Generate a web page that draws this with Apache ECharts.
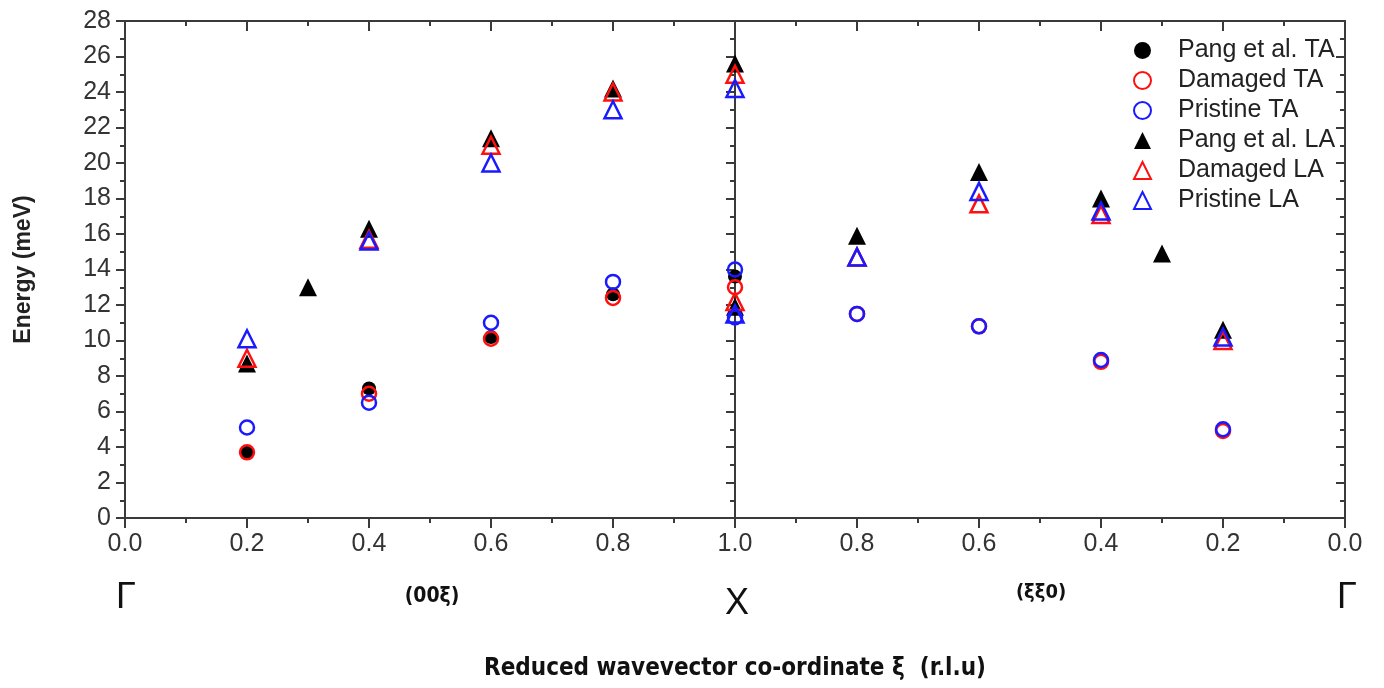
<!DOCTYPE html>
<html><head><meta charset="utf-8">
<script src="https://cdn.jsdelivr.net/npm/echarts@6/dist/echarts.min.js"></script>
<style>html,body{margin:0;padding:0;background:#fff}#c{width:1384px;height:688px}</style>
</head><body><div id="c"></div>
<script>
// ---- data (ξ in r.l.u., energy in meV) ----
// (00ξ) branch: Γ -> X ; (ξξ0) branch: X -> Γ
const xiLeft = [0.2, 0.4, 0.6, 0.8, 1.0];
const xiRight = [1.0, 0.8, 0.6, 0.4, 0.2];
const xiPangLALeft = [0.2, 0.3, 0.4, 0.6, 0.8, 1.0];
const xiPangLARight = [1.0, 0.8, 0.6, 0.4, 0.3, 0.2];

const pangTALeft = [3.7, 7.3, 10.2, 12.6, 13.6];
const damagedTALeft = [3.7, 7.0, 10.1, 12.4, 13.0];
const damagedTARight = [null, 11.5, 10.8, 8.8, 4.9];
const pristineTALeft = [5.1, 6.5, 11.0, 13.3, 14.0];
const pristineTARight = [11.3, 11.5, 10.8, 8.9, 5.0];
const pangLALeft = [8.7, 13.0, 16.3, 21.4, 24.2, 25.6];
const pangLARight = [11.9, 15.9, 19.5, 18.0, 14.9, 10.6];
const damagedLALeft = [9.0, 15.7, 21.0, 24.0, 25.0];
const damagedLARight = [12.2, 14.7, 17.7, 17.1, 10.0];
const pristineLALeft = [10.1, 15.6, 20.0, 23.0, 24.2];
const pristineLARight = [11.5, 14.7, 18.4, 17.3, 10.2];

const xTickLabels = ['0.0','0.2','0.4','0.6','0.8','1.0','0.8','0.6','0.4','0.2','0.0'];

// path coordinate: left branch ξ, right branch 2-ξ
function pts(xl, yl, xr, yr) {
  const out = [];
  xl.forEach((x, i) => { if (yl[i] != null) out.push([x, yl[i]]); });
  if (xr) xr.forEach((x, i) => { if (yr[i] != null) out.push([2 - x, yr[i]]); });
  return out;
}

const chart = echarts.init(document.getElementById('c'));
const axisCol = '#3a3a3a';
const lblFont = 'Liberation Sans, Arial, sans-serif';
const GL = 125, GR = 39, GT = 21, GB = 170;
const halfW = (1384 - GL - GR) / 2;

function sc(name, symbol, size, data, fill, border, z) {
  return {
    name, type: 'scatter', symbol, symbolSize: size, data, z,
    xAxisIndex: 0, yAxisIndex: 0,
    itemStyle: fill ? { color: fill, borderWidth: 0, opacity: 1 }
                    : { color: 'rgba(255,255,255,0)', borderColor: border, borderWidth: 2.5, opacity: 1 },
    emphasis: { disabled: true }
  };
}
function ax(extra) {
  return Object.assign({
    splitLine: { show: false },
    axisLine: { show: true, onZero: false, lineStyle: { color: axisCol, width: 2 } }
  }, extra);
}

const option = {
  animation: false,
  backgroundColor: '#fff',
  grid: { left: GL, right: GR, top: GT, bottom: GB, containLabel: false },
  legend: {
    orient: 'vertical', left: 1128, top: 33, itemGap: 5, itemWidth: 17, itemHeight: 17,
    textStyle: { fontFamily: lblFont, fontSize: 25, lineHeight: 25, color: '#222', padding: [0, 0, 0, 22] },
    data: ['Pang et al. TA', 'Damaged TA', 'Pristine TA', 'Pang et al. LA', 'Damaged LA', 'Pristine LA']
  },
  xAxis: [ax({
    type: 'value', min: 0, max: 2, interval: 0.2, position: 'bottom',
    axisTick: { inside: false, length: 10, lineStyle: { color: axisCol, width: 2 } },
    minorTick: { show: true, splitNumber: 2, length: 5, lineStyle: { color: axisCol, width: 2 } },
    axisLabel: { margin: 14, fontFamily: lblFont, fontSize: 25, color: '#333',
      formatter: v => xTickLabels[Math.round(v / 0.2)] }
  }), ax({
    type: 'value', min: 0, max: 2, interval: 0.2, position: 'top',
    axisTick: { inside: true, length: 10, lineStyle: { color: axisCol, width: 2 } },
    minorTick: { show: true, splitNumber: 2, length: 5, lineStyle: { color: axisCol, width: 2 } },
    axisLabel: { show: false }
  })],
  yAxis: [ax({
    type: 'value', min: 0, max: 28, interval: 2, position: 'left',
    name: 'Energy (meV)', nameLocation: 'middle', nameGap: 90, nameRotate: 90,
    nameTextStyle: { fontFamily: lblFont, fontSize: 23, fontWeight: 'bold', color: '#222' },
    axisTick: { inside: false, length: 9, lineStyle: { color: axisCol, width: 2 } },
    minorTick: { show: true, splitNumber: 2, length: 5, lineStyle: { color: axisCol, width: 2 } },
    axisLabel: { margin: 14, fontFamily: lblFont, fontSize: 25, color: '#333' }
  }), ax({
    type: 'value', min: 0, max: 28, interval: 2, position: 'right',
    axisTick: { inside: true, length: 9, lineStyle: { color: axisCol, width: 2 } },
    minorTick: { show: true, splitNumber: 2, length: 5, lineStyle: { color: axisCol, width: 2 } },
    axisLabel: { show: false }
  }), ax({
    type: 'value', min: 0, max: 28, interval: 2, position: 'left', offset: -halfW,
    axisTick: { inside: false, length: 9, lineStyle: { color: axisCol, width: 2 } },
    minorTick: { show: true, splitNumber: 2, length: 5, lineStyle: { color: axisCol, width: 2 } },
    axisLabel: { show: false }
  })],
  series: [
    sc('Pang et al. TA', 'circle', 14, pts(xiLeft, pangTALeft), '#000', null, 2),
    sc('Pang et al. LA', 'triangle', 18, pts(xiPangLALeft, pangLALeft, xiPangLARight, pangLARight), '#000', null, 2),
    sc('Damaged TA', 'circle', 14, pts(xiLeft, damagedTALeft, xiRight, damagedTARight), null, '#ff1010', 3),
    sc('Damaged LA', 'triangle', 17, pts(xiLeft, damagedLALeft, xiRight, damagedLARight), null, '#ff1010', 3),
    sc('Pristine TA', 'circle', 14, pts(xiLeft, pristineTALeft, xiRight, pristineTARight), null, '#1a1aff', 4),
    sc('Pristine LA', 'triangle', 17, pts(xiLeft, pristineLALeft, xiRight, pristineLARight), null, '#1a1aff', 4)
  ],
  graphic: [
    { type: 'text', x: 126, y: 598, style: { text: 'Γ', font: '36px Liberation Sans, sans-serif', fill: '#111', align: 'center', verticalAlign: 'middle' } },
    { type: 'text', x: 1347, y: 598, style: { text: 'Γ', font: '36px Liberation Sans, sans-serif', fill: '#111', align: 'center', verticalAlign: 'middle' } },
    { type: 'text', x: 737, y: 604, style: { text: 'X', font: '36px Liberation Sans, sans-serif', fill: '#111', align: 'center', verticalAlign: 'middle' } },
    { type: 'text', x: 432, y: 597, style: { text: '(00ξ)', font: 'bold 21px Liberation Sans Narrow, DejaVu Sans Condensed, sans-serif', fill: '#111', align: 'center', verticalAlign: 'middle' } },
    { type: 'text', x: 1041, y: 593, style: { text: '(ξξ0)', font: 'bold 20px Liberation Sans Narrow, DejaVu Sans Condensed, sans-serif', fill: '#111', align: 'center', verticalAlign: 'middle' } },
    { type: 'text', x: 735, y: 669, style: { text: 'Reduced wavevector co-ordinate ξ  (r.l.u)', font: 'bold 24px Liberation Sans Narrow, DejaVu Sans Condensed, sans-serif', fill: '#111', align: 'center', verticalAlign: 'middle' } }
  ]
};
chart.setOption(option);
</script></body></html>
